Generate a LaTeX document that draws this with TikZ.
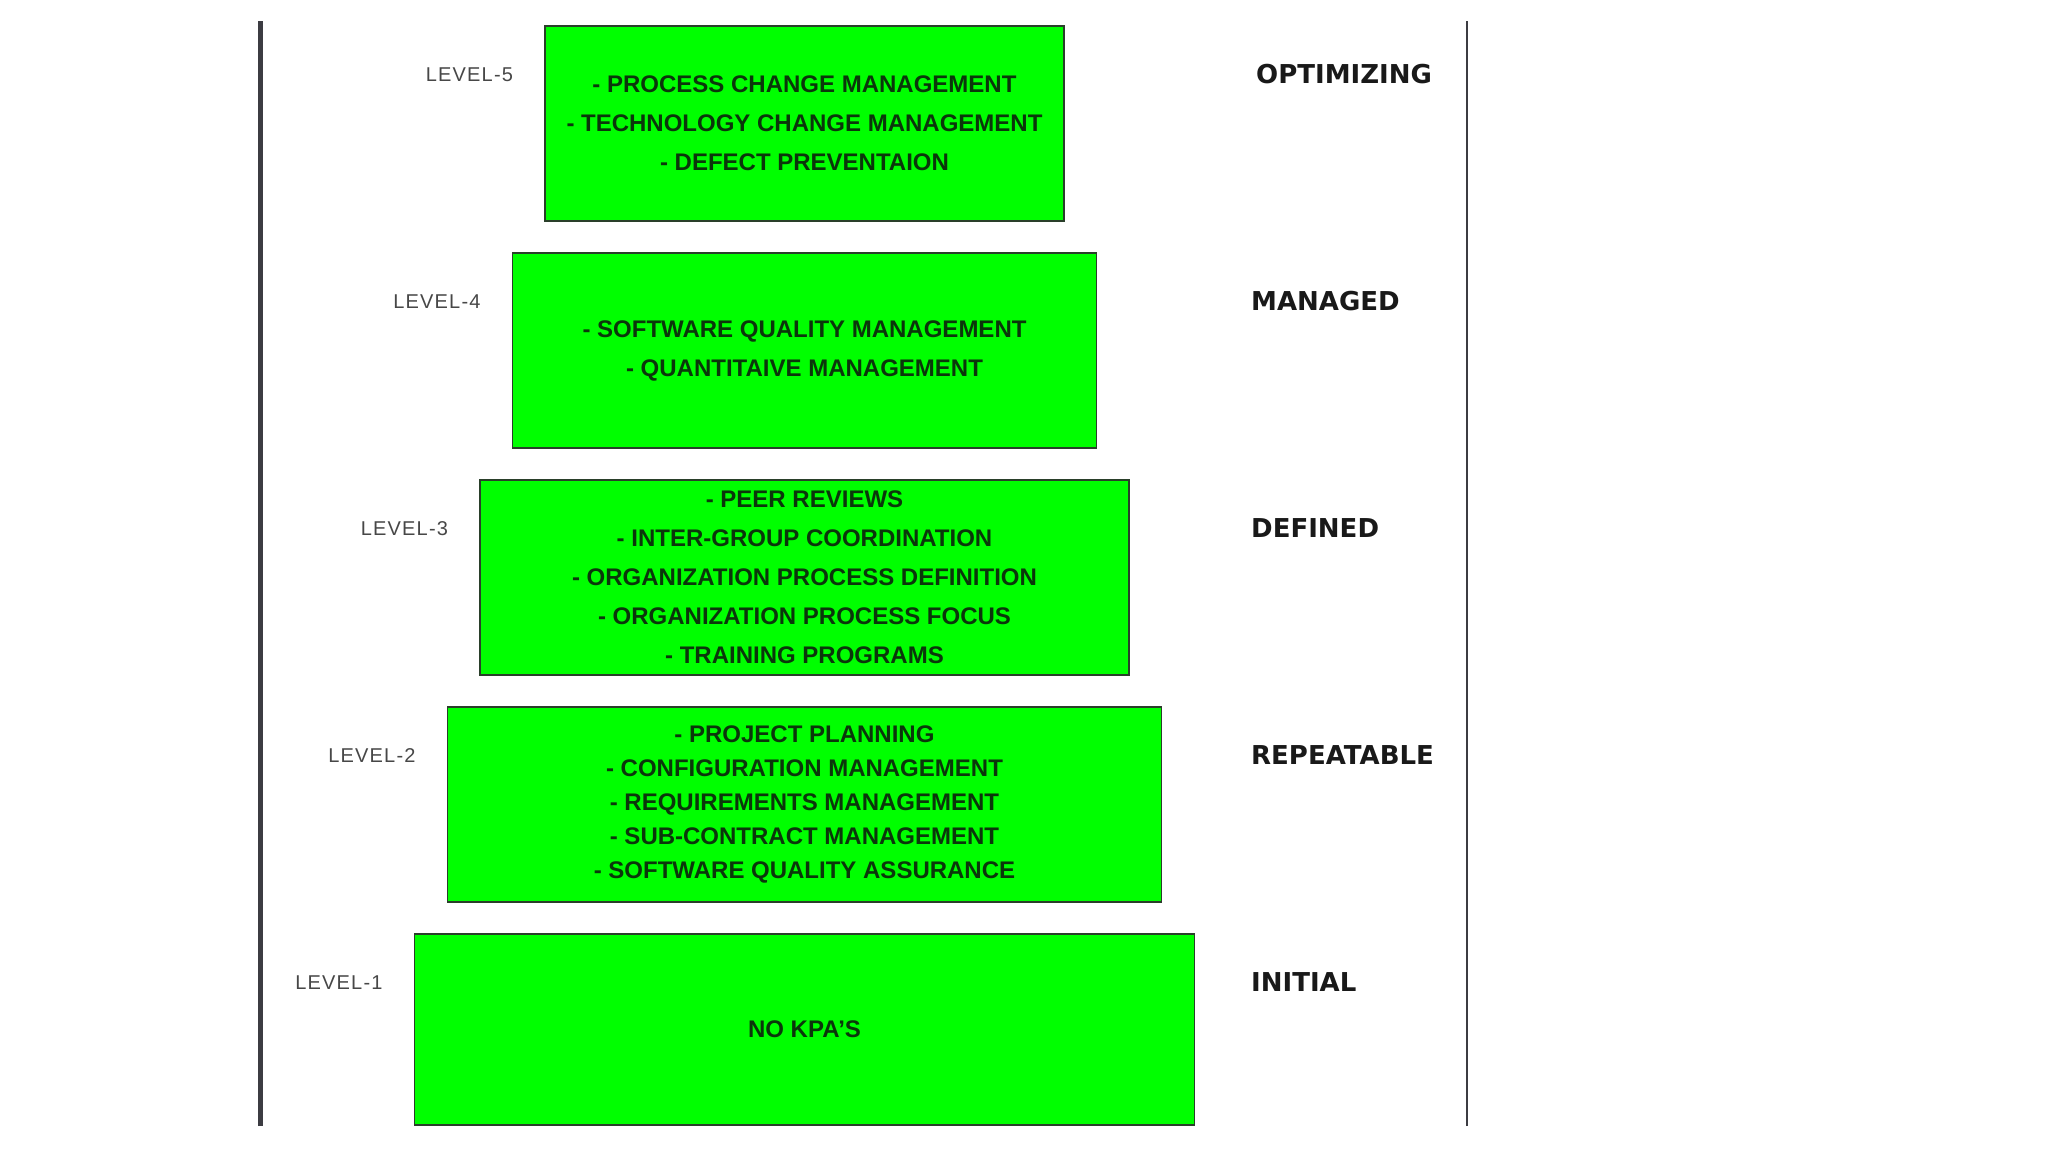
\documentclass[tikz,border=0pt]{standalone}
\usepackage{fontspec}
\setmainfont{Liberation Sans}
\newfontfamily\stagefont{DejaVu Sans}
\newfontfamily\levelfont[LetterSpace=6]{Liberation Sans}
\usetikzlibrary{positioning}

\definecolor{kpagreen}{HTML}{00FF00}
\definecolor{kpatext}{HTML}{0B360B}
\definecolor{kpaborder}{HTML}{2A3F2A}
\definecolor{levelgray}{HTML}{474747}
\definecolor{railgray}{HTML}{3C3C42}

\begin{document}
\begin{tikzpicture}[x=1pt,y=1pt,
  kpabox/.style={draw=kpaborder, line width=1.5pt, fill=kpagreen, text=kpatext,
    align=center, inner sep=0pt, minimum height=195pt,
    font=\bfseries\fontsize{24}{39}\selectfont},
  levellabel/.style={text=levelgray, inner sep=0pt,
    font=\levelfont\fontsize{20}{24}\selectfont},
  stagelabel/.style={anchor=west, text=black!90, inner sep=0pt,
    font=\stagefont\bfseries\fontsize{26}{30}\selectfont}]

% Page size
\useasboundingbox (0,0) rectangle (2048,1152);

% Side rails
\draw[line width=5pt, railgray] (260,26) -- (260,1131);
\draw[line width=2pt, railgray] (1467,26) -- (1467,1131);

% Draw the KPA boxes, one per level
\node[kpabox, minimum width=519pt] (box5) at (804.5,1028.5)
  {- PROCESS CHANGE MANAGEMENT\\ - TECHNOLOGY CHANGE MANAGEMENT\\ - DEFECT PREVENTAION};
\node[kpabox, minimum width=584pt, below=30.5pt of box5] (box4)
  {- SOFTWARE QUALITY MANAGEMENT\\ - QUANTITAIVE MANAGEMENT};
\node[kpabox, minimum width=649pt, below=30.5pt of box4] (box3)
  {- PEER REVIEWS\\ - INTER-GROUP COORDINATION\\ - ORGANIZATION PROCESS DEFINITION\\
   - ORGANIZATION PROCESS FOCUS\\ - TRAINING PROGRAMS};
\node[kpabox, minimum width=714pt, below=30.5pt of box3,
  font=\bfseries\fontsize{24}{34}\selectfont] (box2)
  {- PROJECT PLANNING\\ - CONFIGURATION MANAGEMENT\\ - REQUIREMENTS MANAGEMENT\\
   - SUB-CONTRACT MANAGEMENT\\ - SOFTWARE QUALITY ASSURANCE};
\node[kpabox, minimum width=780pt, minimum height=191pt, below=30.5pt of box2] (box1)
  {NO KPA'S};

% Level names on the left
\foreach \n in {5,4,3,2,1}
  \node[levellabel, left=31pt of box\n.north west, yshift=-49pt] (level\n) {LEVEL-\n};

% Stage names on the right
\coordinate (stagecol) at (1251,0);
\node[stagelabel, xshift=5pt] (stage5) at (stagecol |- level5) {OPTIMIZING};
\node[stagelabel] (stage4) at (stagecol |- level4) {MANAGED};
\node[stagelabel] (stage3) at (stagecol |- level3) {DEFINED};
\node[stagelabel] (stage2) at (stagecol |- level2) {REPEATABLE};
\node[stagelabel] (stage1) at (stagecol |- level1) {INITIAL};

\end{tikzpicture}
\end{document}
